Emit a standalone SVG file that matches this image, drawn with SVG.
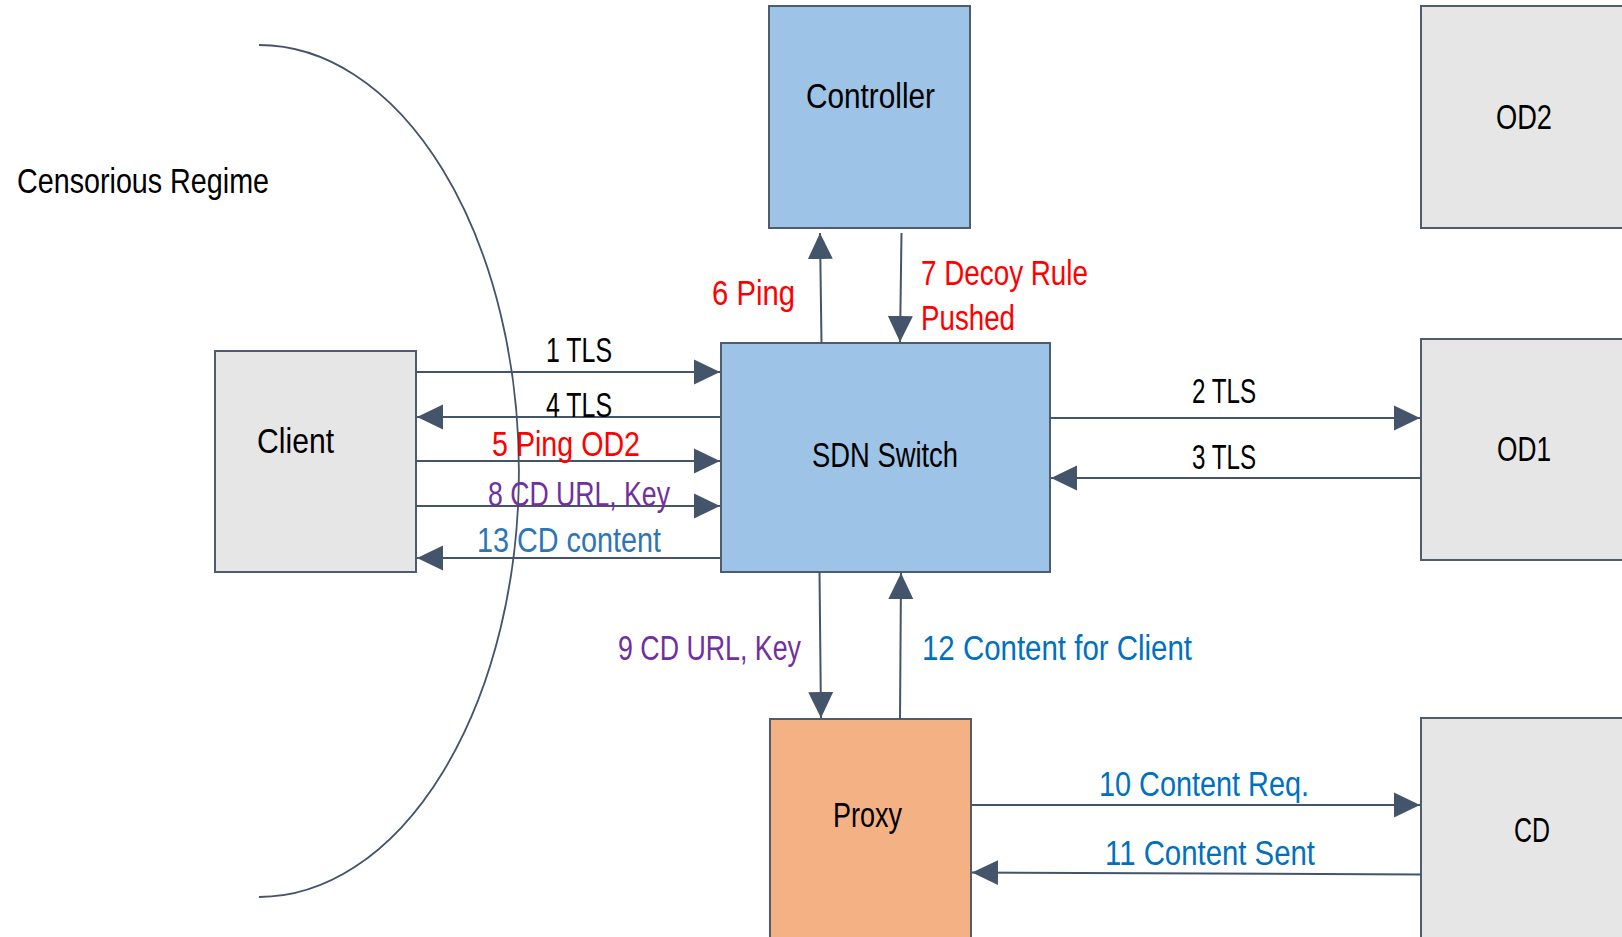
<svg xmlns="http://www.w3.org/2000/svg" width="1622" height="937" viewBox="0 0 1622 937">
<style>
.box{stroke:#4F5B6E;stroke-width:2}
.grey{fill:#E6E6E6}
.blue{fill:#9DC3E6}
.orange{fill:#F4B183}
.conn{stroke:#44546A;stroke-width:2;fill:none}
text{font-family:"Liberation Sans",Arial,sans-serif;font-size:35px;fill:#000}
.red{fill:#FF0000}
.purple{fill:#7030A0}
.cblue{fill:#0070C0}
.sblue{fill:#2E75B6}
</style>
<defs>
<marker id="ah" markerUnits="userSpaceOnUse" markerWidth="26" markerHeight="26" refX="26" refY="12.5" orient="auto" viewBox="0 0 26 25">
<path d="M0,0 L26,12.5 L0,25 z" fill="#44546A"/>
</marker>
</defs>
<rect width="1622" height="937" fill="#fff"/>
<g id="regime">
<path class="conn" d="M259,45 A260,426 0 0 1 259,897" style="stroke-width:1.8"/>
<text x="17" y="193" textLength="252" lengthAdjust="spacingAndGlyphs">Censorious Regime</text>
</g>
<g id="client">
<rect class="box grey" x="215" y="351" width="201" height="221"/>
<text x="257" y="453" textLength="77" lengthAdjust="spacingAndGlyphs">Client</text>
</g>
<g id="controller">
<rect class="box blue" x="769" y="6" width="201" height="222"/>
<text x="806" y="108" textLength="129" lengthAdjust="spacingAndGlyphs">Controller</text>
</g>
<g id="sdn">
<rect class="box blue" x="721" y="343" width="329" height="229"/>
<text x="812" y="467" textLength="146" lengthAdjust="spacingAndGlyphs">SDN Switch</text>
</g>
<g id="od2">
<rect class="box grey" x="1421" y="6" width="230" height="222"/>
<text x="1496" y="129" textLength="56" lengthAdjust="spacingAndGlyphs">OD2</text>
</g>
<g id="od1">
<rect class="box grey" x="1421" y="339" width="230" height="221"/>
<text x="1497" y="461" textLength="54" lengthAdjust="spacingAndGlyphs">OD1</text>
</g>
<g id="proxy">
<rect class="box orange" x="770" y="719" width="201" height="240"/>
<text x="833" y="827" textLength="69" lengthAdjust="spacingAndGlyphs">Proxy</text>
</g>
<g id="cd">
<rect class="box grey" x="1421" y="718" width="230" height="240"/>
<text x="1514" y="842" textLength="36" lengthAdjust="spacingAndGlyphs">CD</text>
</g>
<g id="connectors">
<line class="conn" x1="416" y1="372" x2="720" y2="372" marker-end="url(#ah)"/>
<line class="conn" x1="720" y1="417" x2="417" y2="417" marker-end="url(#ah)"/>
<line class="conn" x1="416" y1="461" x2="720" y2="461" marker-end="url(#ah)"/>
<line class="conn" x1="416" y1="506" x2="720" y2="506" marker-end="url(#ah)"/>
<line class="conn" x1="720" y1="558" x2="417" y2="558" marker-end="url(#ah)"/>
<line class="conn" x1="821.5" y1="343" x2="820" y2="233" marker-end="url(#ah)"/>
<line class="conn" x1="901.5" y1="233" x2="900" y2="342" marker-end="url(#ah)"/>
<line class="conn" x1="1050" y1="418" x2="1420" y2="418" marker-end="url(#ah)"/>
<line class="conn" x1="1421" y1="478" x2="1051" y2="478" marker-end="url(#ah)"/>
<line class="conn" x1="819.5" y1="572" x2="821" y2="718" marker-end="url(#ah)"/>
<line class="conn" x1="900" y1="719" x2="901" y2="573" marker-end="url(#ah)"/>
<line class="conn" x1="971" y1="805" x2="1420" y2="805" marker-end="url(#ah)"/>
<line class="conn" x1="1421" y1="874.5" x2="972" y2="872.5" marker-end="url(#ah)"/>
</g>
<g id="labels">
<text x="546" y="362" textLength="66" lengthAdjust="spacingAndGlyphs">1 TLS</text>
<text x="546" y="417" textLength="66" lengthAdjust="spacingAndGlyphs">4 TLS</text>
<text class="red" x="492" y="456" textLength="148" lengthAdjust="spacingAndGlyphs">5 Ping OD2</text>
<text class="purple" x="488" y="506" textLength="182" lengthAdjust="spacingAndGlyphs">8 CD URL, Key</text>
<text class="sblue" x="477" y="552" textLength="184" lengthAdjust="spacingAndGlyphs">13 CD content</text>
<text class="red" x="712" y="305" textLength="83" lengthAdjust="spacingAndGlyphs">6 Ping</text>
<text class="red" x="921" y="285" textLength="167" lengthAdjust="spacingAndGlyphs">7 Decoy Rule</text>
<text class="red" x="921" y="330" textLength="94" lengthAdjust="spacingAndGlyphs">Pushed</text>
<text x="1192" y="403" textLength="64" lengthAdjust="spacingAndGlyphs">2 TLS</text>
<text x="1192" y="469" textLength="64" lengthAdjust="spacingAndGlyphs">3 TLS</text>
<text class="purple" x="618" y="660" textLength="183" lengthAdjust="spacingAndGlyphs">9 CD URL, Key</text>
<text class="cblue" x="922" y="660" textLength="270" lengthAdjust="spacingAndGlyphs">12 Content for Client</text>
<text class="cblue" x="1099" y="796" textLength="210" lengthAdjust="spacingAndGlyphs">10 Content Req.</text>
<text class="cblue" x="1105" y="865" textLength="210" lengthAdjust="spacingAndGlyphs">11 Content Sent</text>
</g>
</svg>
